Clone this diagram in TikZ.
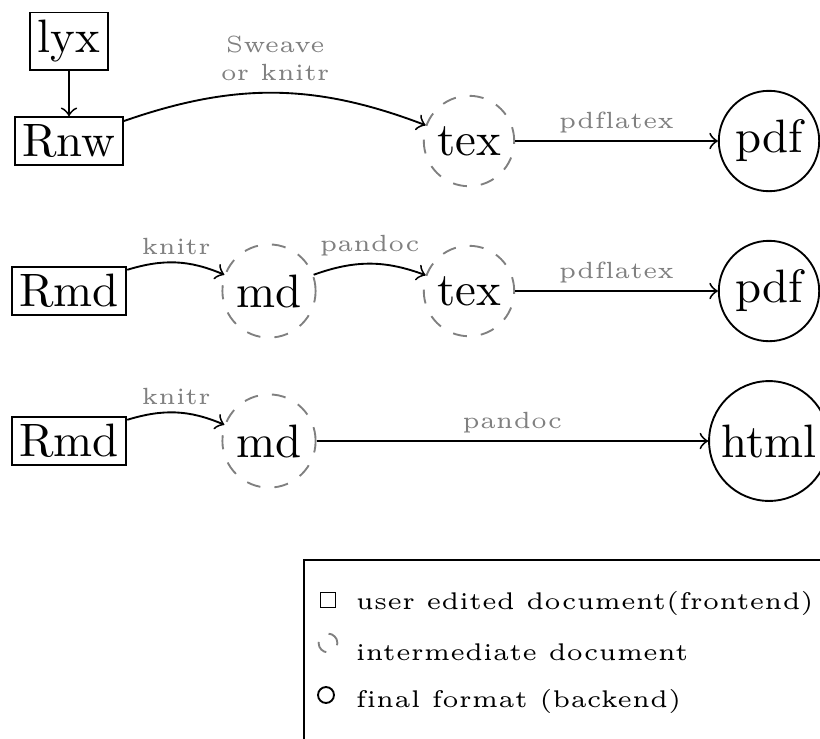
\documentclass[tikz,border=0pt]{standalone}
\begin{document}
\begin{tikzpicture}[x=0.75cm,y=0.75cm,
  user/.style={draw, rectangle, inner sep=1.6pt},
  inter/.style={draw=gray, dashed, circle, inner sep=1.6pt},
  final/.style={draw, circle, inner sep=1.6pt},
  lbl/.style={font=\tiny, text=gray, inner sep=1.4pt},
  conv/.style={->},
  legtext/.style={font=\fontsize{5.15}{6.2}\selectfont, anchor=base west, inner sep=0pt}]
\useasboundingbox (-0.69,1.41) rectangle (7.51,-5.97);
% row 1
\node[user] (lyx) at (0,1) {lyx};
\node[user] (Rnw) at (0,0) {Rnw};
\node[inter] (tex1) at (4,0) {\textcolor{black}{tex}};
\node[final] (pdf1) at (7,0) {pdf};
\draw[conv] (lyx) -- (Rnw);
\draw[conv] (Rnw) to[bend left=20] node[lbl, above, align=center, yshift=1pt] {Sweave\\or knitr} (tex1);
\draw[conv] (tex1) -- node[lbl, above] {pdf\kern0pt latex} (pdf1);
% row 2
\node[user] (Rmd2) at (0,-1.5) {Rmd};
\node[inter] (md2) at (2,-1.5) {\textcolor{black}{md}};
\node[inter] (tex2) at (4,-1.5) {\textcolor{black}{tex}};
\node[final] (pdf2) at (7,-1.5) {pdf};
\draw[conv] (Rmd2) to[bend left=20] node[lbl, above] {knitr} (md2);
\draw[conv] (md2) to[bend left=20] node[lbl, above] {pandoc} (tex2);
\draw[conv] (tex2) -- node[lbl, above] {pdf\kern0pt latex} (pdf2);
% row 3
\node[user] (Rmd3) at (0,-3) {Rmd};
\node[inter] (md3) at (2,-3) {\textcolor{black}{md}};
\node[final] (html) at (7,-3) {html};
\draw[conv] (Rmd3) to[bend left=20] node[lbl, above] {knitr} (md3);
\draw[conv] (md3) -- node[lbl, above] {pandoc} (html);
% legend
\node[draw, anchor=north west, minimum width=4cm, minimum height=1.5cm] (legend) at (2.34,-4.18) {};
\node[user] (symuser) at (2.59,-4.59) {};
\node[inter, inner sep=0pt, minimum size=4pt] (syminter) at (2.59,-5.02) {};
\node[final, inner sep=0pt, minimum size=3.4pt] (symfinal) at (2.57,-5.54) {};
\node[legtext] (txtuser) at (2.86,-4.68) {user edited document(frontend)};
\node[legtext] (txtinter) at (2.86,-5.19) {intermediate document};
\node[legtext] (txtfinal) at (2.86,-5.66) {f\kern0pt inal format (backend)};
\end{tikzpicture}
\end{document}
